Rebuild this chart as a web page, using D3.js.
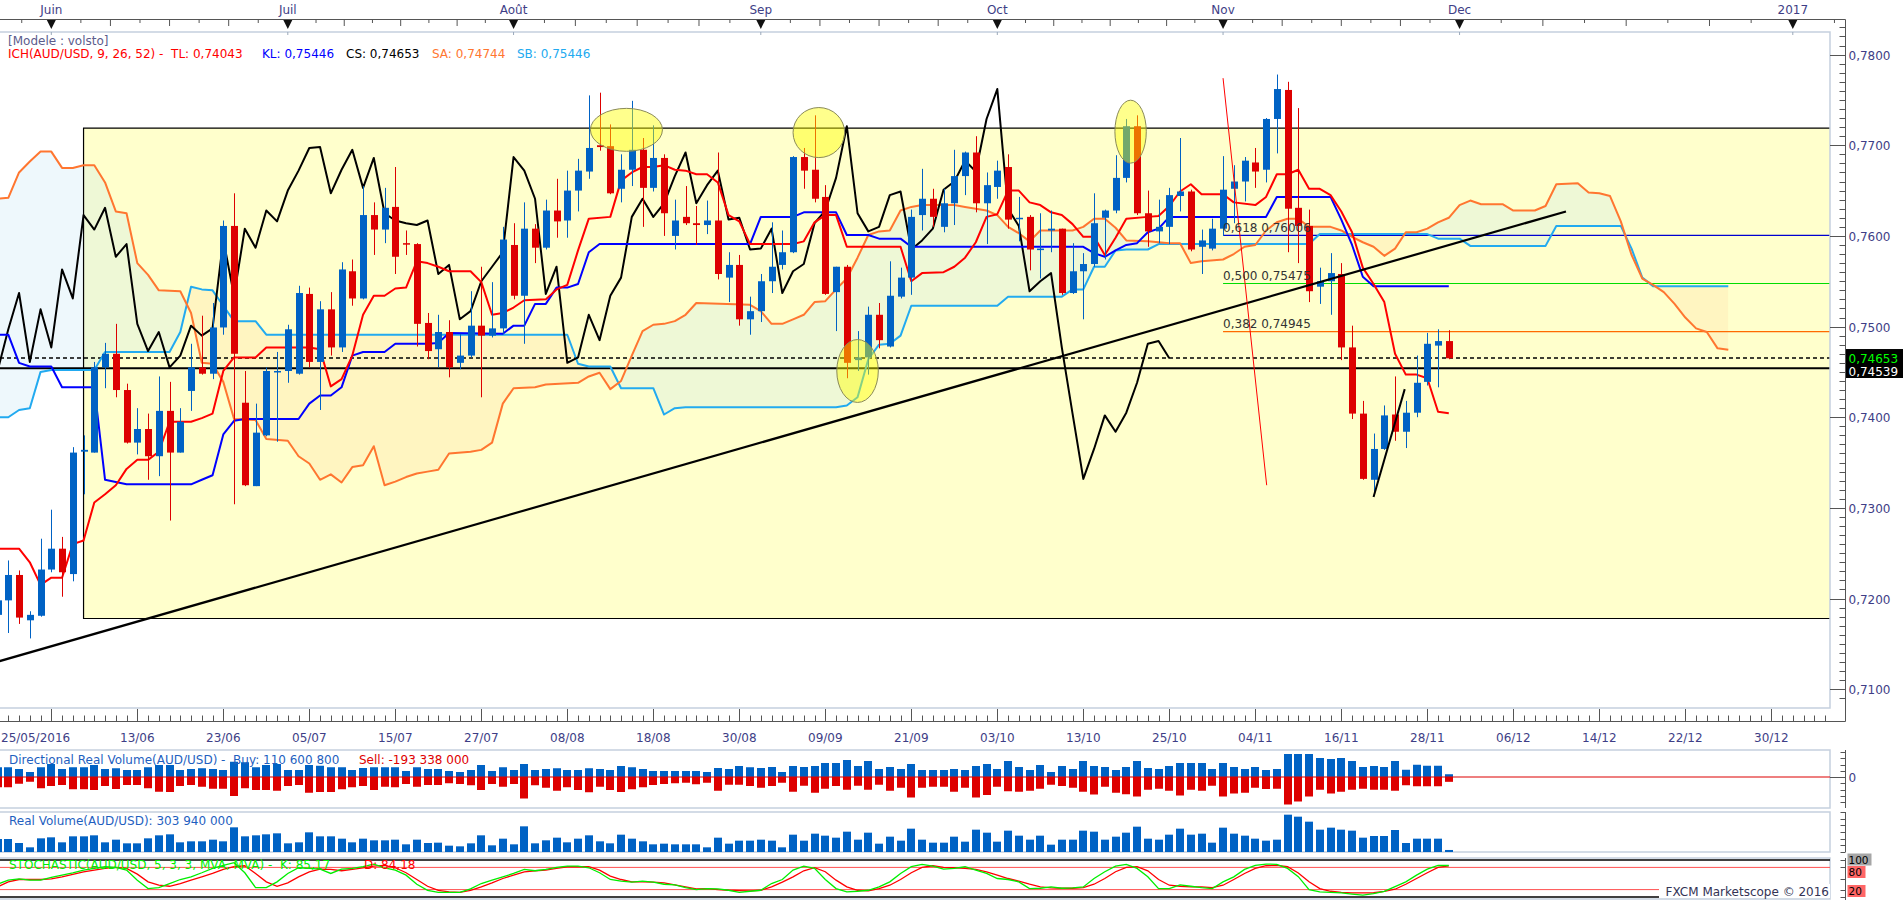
<!DOCTYPE html>
<html><head><meta charset="utf-8">
<script src="https://cdn.jsdelivr.net/npm/d3@7/dist/d3.min.js"></script>
<style>
html,body{margin:0;padding:0;background:#fff;overflow:hidden}
svg{display:block}
text{font-family:"DejaVu Sans",Verdana,sans-serif;font-size:12px;white-space:pre}
</style></head>
<body><svg id="c" width="1903" height="900"></svg>
<script>
// ---------------- DATA ----------------
const firstBar = -5; // bar index of first candle (1/06/2016 = 0)
const opens = [0.7182,0.7198,0.7226,0.7176,0.7181,0.7232,0.7255,0.7227,0.7362,0.7361,
0.7455,0.7470,0.7430,0.7372,0.7387,0.7357,0.7407,0.7361,0.7429,0.7455,
0.7448,0.7499,0.7611,0.7416,0.7324,0.7380,0.7450,0.7451,0.7448,0.7536,
0.7461,0.7519,0.7477,0.7561,0.7531,0.7623,0.7607,0.7632,0.7592,0.7591,
0.7504,0.7475,0.7494,0.7460,0.7468,0.7501,0.7490,0.7498,0.7590,0.7534,
0.7608,0.7587,0.7628,0.7617,0.7650,0.7671,0.7700,0.7699,0.7652,0.7673,
0.7695,0.7653,0.7686,0.7600,0.7621,0.7614,0.7612,0.7617,0.7554,0.7568,
0.7508,0.7517,0.7550,0.7568,0.7582,0.7687,0.7673,0.7643,0.7538,0.7566,
0.7463,0.7466,0.7513,0.7478,0.7533,0.7554,0.7623,0.7641,0.7610,0.7636,
0.7666,0.7692,0.7636,0.7654,0.7676,0.7619,0.7621,0.7585,0.7606,0.7608,
0.7537,0.7561,0.7569,0.7620,0.7628,0.7664,0.7721,0.7625,0.7605,0.7610,
0.7644,0.7649,0.7588,0.7586,0.7608,0.7652,0.7660,0.7681,0.7673,0.7729,
0.7761,0.7631,0.7611,0.7544,0.7550,0.7558,0.7477,0.7404,0.7331,0.7365,
0.7403,0.7384,0.7405,0.7439,0.7479,0.7484];
const highs = [0.7206,0.7242,0.7231,0.7186,0.7266,0.7298,0.7268,0.7367,0.7380,0.7461,
0.7482,0.7503,0.7437,0.7410,0.7404,0.7445,0.7439,0.7410,0.7481,0.7512,
0.7526,0.7617,0.7647,0.7451,0.7415,0.7455,0.7472,0.7502,0.7545,0.7543,
0.7528,0.7538,0.7571,0.7574,0.7655,0.7637,0.7653,0.7676,0.7606,0.7592,
0.7515,0.7513,0.7507,0.7492,0.7539,0.7566,0.7549,0.7610,0.7614,0.7637,
0.7613,0.7640,0.7663,0.7672,0.7685,0.7755,0.7758,0.7723,0.7690,0.7749,
0.7708,0.7722,0.7690,0.7640,0.7655,0.7633,0.7639,0.7692,0.7582,0.7579,
0.7533,0.7558,0.7615,0.7606,0.7688,0.7697,0.7733,0.7656,0.7566,0.7568,
0.7495,0.7522,0.7526,0.7572,0.7565,0.7629,0.7674,0.7652,0.7652,0.7695,
0.7693,0.7710,0.7670,0.7683,0.7690,0.7643,0.7623,0.7625,0.7628,0.7608,
0.7592,0.7581,0.7647,0.7629,0.7689,0.7729,0.7733,0.7650,0.7640,0.7653,
0.7708,0.7651,0.7607,0.7619,0.7688,0.7678,0.7687,0.7697,0.7730,0.7778,
0.7770,0.7741,0.7629,0.7565,0.7581,0.7570,0.7501,0.7418,0.7382,0.7413,
0.7445,0.7418,0.7468,0.7493,0.7497,0.7496];
const lows = [0.7174,0.7162,0.7172,0.7156,0.7180,0.7229,0.7202,0.7219,0.7315,0.7361,
0.7432,0.7422,0.7371,0.7359,0.7331,0.7335,0.7286,0.7361,0.7407,0.7447,
0.7442,0.7491,0.7304,0.7324,0.7324,0.7379,0.7373,0.7438,0.7447,0.7455,
0.7408,0.7468,0.7472,0.7523,0.7530,0.7579,0.7592,0.7558,0.7579,0.7478,
0.7464,0.7455,0.7444,0.7453,0.7466,0.7422,0.7488,0.7492,0.7530,0.7481,
0.7570,0.7585,0.7598,0.7598,0.7627,0.7663,0.7694,0.7646,0.7637,0.7655,
0.7610,0.7649,0.7600,0.7585,0.7612,0.7590,0.7602,0.7552,0.7527,0.7501,
0.7491,0.7505,0.7537,0.7563,0.7581,0.7652,0.7637,0.7535,0.7495,0.7443,
0.7451,0.7447,0.7476,0.7477,0.7531,0.7535,0.7606,0.7610,0.7604,0.7612,
0.7645,0.7626,0.7591,0.7641,0.7608,0.7594,0.7562,0.7553,0.7582,0.7535,
0.7536,0.7508,0.7566,0.7574,0.7625,0.7659,0.7623,0.7588,0.7592,0.7591,
0.7627,0.7583,0.7558,0.7584,0.7600,0.7614,0.7638,0.7653,0.7659,0.7691,
0.7582,0.7570,0.7527,0.7525,0.7513,0.7463,0.7398,0.7331,0.7313,0.7364,
0.7374,0.7366,0.7400,0.7435,0.7433,0.7464];
const closes = [0.7198,0.7226,0.7179,0.7182,0.7232,0.7255,0.7229,0.7361,0.7364,0.7455,
0.7470,0.7430,0.7372,0.7387,0.7357,0.7407,0.7361,0.7395,0.7455,0.7448,
0.7499,0.7611,0.7470,0.7325,0.7383,0.7451,0.7451,0.7497,0.7537,0.7461,
0.7519,0.7477,0.7563,0.7531,0.7623,0.7607,0.7631,0.7577,0.7591,0.7503,
0.7473,0.7494,0.7455,0.7468,0.7501,0.7490,0.7498,0.7596,0.7534,0.7608,
0.7587,0.7628,0.7616,0.7650,0.7672,0.7697,0.7698,0.7647,0.7673,0.7695,
0.7653,0.7686,0.7625,0.7617,0.7614,0.7612,0.7617,0.7558,0.7568,0.7508,
0.7517,0.7550,0.7566,0.7582,0.7687,0.7672,0.7641,0.7536,0.7566,0.7460,
0.7466,0.7513,0.7485,0.7534,0.7554,0.7621,0.7641,0.7621,0.7636,0.7666,
0.7692,0.7636,0.7656,0.7672,0.7618,0.7620,0.7585,0.7586,0.7608,0.7537,
0.7561,0.7569,0.7614,0.7628,0.7664,0.7721,0.7625,0.7605,0.7610,0.7645,
0.7649,0.7585,0.7595,0.7608,0.7651,0.7660,0.7683,0.7671,0.7729,0.7762,
0.7630,0.7611,0.7539,0.7550,0.7559,0.7477,0.7404,0.7332,0.7365,0.7402,
0.7384,0.7405,0.7438,0.7481,0.7484,0.7465];

// Ichimoku lines: [bar, price]
const tenkan = [[-5,0.7255],[-3,0.7255],[-2,0.7240],[-1,0.7215],[0,0.7223],[1,0.7223],[2,0.7260],[3,0.7264],[4,0.7306],[5,0.7315],[6,0.7325],[7,0.7343],[8,0.7353],[9,0.7353],[10,0.7362],[11,0.7395],[13,0.7395],[14,0.7399],[15,0.7404],[16,0.7451],[17,0.7466],[19,0.7466],[20,0.7477],[24,0.7477],[25,0.7475],[26,0.7434],[27,0.7442],[28,0.7468],[29,0.7513],[30,0.7534],[31,0.7534],[32,0.7542],[33,0.7543],[34,0.7572],[35,0.7570],[36,0.7566],[37,0.7561],[39,0.7561],[40,0.7549],[41,0.7513],[42,0.7515],[43,0.7521],[44,0.7529],[46,0.7530],[47,0.7541],[48,0.7546],[49,0.7584],[50,0.7619],[52,0.7621],[53,0.7661],[54,0.7670],[55,0.7676],[56,0.7676],[57,0.7678],[58,0.7673],[59,0.7672],[60,0.7668],[61,0.7668],[62,0.7659],[63,0.7623],[64,0.7616],[65,0.7591],[69,0.7591],[70,0.7594],[71,0.7615],[72,0.7623],[73,0.7623],[74,0.7588],[79,0.7588],[80,0.7550],[81,0.7559],[83,0.7560],[84,0.7566],[85,0.7576],[86,0.7593],[87,0.7621],[88,0.7624],[89,0.7650],[90,0.7650],[91,0.7637],[92,0.7634],[93,0.7626],[94,0.7623],[95,0.7613],[96,0.7599],[97,0.7599],[98,0.7579],[99,0.7598],[100,0.7619],[102,0.7621],[103,0.7622],[104,0.7633],[105,0.7649],[106,0.7657],[107,0.7646],[109,0.7646],[110,0.7637],[112,0.7634],[113,0.7643],[114,0.7668],[115,0.7668],[116,0.7673],[117,0.7652],[118,0.7652],[119,0.7645],[120,0.7627],[121,0.7604],[122,0.7565],[123,0.7547],[124,0.7527],[125,0.7470],[126,0.7447],[127,0.7447],[128,0.7443],[129,0.7406],[130,0.74043]];
const kijun = [[-5,0.7491],[-4,0.7491],[-3,0.7460],[-2,0.7456],[0,0.7456],[1,0.7433],[4,0.7433],[5,0.7331],[7,0.7326],[13,0.7326],[14,0.7331],[15,0.7336],[16,0.7381],[17,0.7396],[18,0.7398],[23,0.7398],[24,0.7415],[25,0.7424],[26,0.7424],[27,0.7433],[28,0.7468],[29,0.7472],[31,0.7472],[32,0.7481],[35,0.7481],[36,0.7482],[37,0.7493],[42,0.7492],[43,0.7501],[44,0.7501],[45,0.7525],[46,0.7525],[47,0.7543],[48,0.7543],[49,0.7547],[50,0.7582],[51,0.7591],[65,0.7591],[66,0.7621],[69,0.7621],[70,0.7626],[73,0.7626],[74,0.7601],[76,0.7601],[77,0.7597],[79,0.7597],[80,0.7588],[96,0.7588],[97,0.7581],[98,0.7577],[99,0.7584],[100,0.7590],[101,0.7592],[102,0.7604],[103,0.7608],[104,0.7621],[113,0.7621],[114,0.7643],[119,0.7643],[120,0.7618],[121,0.7590],[122,0.7555],[123,0.75446],[130,0.75446]];
const senkouA = [[-5,0.7641],[-4,0.7642],[-3,0.7670],[-2,0.7682],[-1,0.7693],[0,0.7693],[1,0.7675],[2,0.7675],[3,0.7678],[4,0.7678],[5,0.7659],[6,0.7627],[7,0.7625],[8,0.7570],[9,0.7557],[10,0.7540],[12,0.7539],[13,0.7515],[14,0.7460],[15,0.7459],[16,0.7439],[17,0.7398],[19,0.7397],[20,0.7376],[22,0.7374],[23,0.7357],[24,0.7349],[25,0.7331],[26,0.7337],[27,0.7328],[28,0.7345],[29,0.7347],[30,0.7368],[31,0.7325],[32,0.7329],[33,0.7334],[34,0.7338],[35,0.7340],[36,0.7342],[37,0.7360],[39,0.7362],[40,0.7364],[41,0.7372],[42,0.7415],[43,0.7432],[45,0.7433],[46,0.7436],[49,0.7438],[50,0.7445],[51,0.7449],[52,0.7431],[53,0.7440],[54,0.7468],[55,0.7495],[56,0.7502],[57,0.7503],[58,0.7506],[59,0.7513],[60,0.7526],[65,0.7524],[66,0.7517],[67,0.7503],[68,0.7503],[69,0.7508],[70,0.7513],[71,0.7527],[72,0.7528],[73,0.7541],[74,0.7553],[75,0.7576],[76,0.7601],[77,0.7605],[78,0.7606],[79,0.7628],[80,0.7632],[81,0.7634],[84,0.7634],[85,0.7632],[86,0.7630],[87,0.7628],[88,0.7623],[89,0.7610],[90,0.7603],[91,0.7594],[92,0.7606],[95,0.7606],[96,0.7610],[97,0.7619],[98,0.7619],[99,0.7609],[100,0.7595],[102,0.7594],[104,0.7592],[105,0.7592],[106,0.7570],[107,0.7572],[109,0.7574],[110,0.7580],[111,0.7588],[112,0.7590],[113,0.7606],[114,0.7615],[115,0.7619],[116,0.7619],[117,0.7610],[119,0.7610],[120,0.7606],[121,0.7599],[122,0.7593],[123,0.7588],[124,0.7578],[125,0.7586],[126,0.7604],[127,0.7604],[128,0.7608],[129,0.7615],[130,0.7620],[131,0.7634],[132,0.7639],[133,0.7635],[135,0.7635],[136,0.7628],[138,0.7628],[139,0.7633],[140,0.7657],[142,0.7658],[143,0.7648],[144,0.7647],[145,0.7644],[146,0.7616],[147,0.7579],[148,0.7553],[149,0.7546],[150,0.7538],[151,0.7525],[152,0.7510],[153,0.7498],[154,0.7494],[155,0.7476],[156,0.74744]];
const senkouB = [[-5,0.7400],[-4,0.7400],[-3,0.7408],[-2,0.7410],[-1,0.7450],[0,0.7452],[4,0.7452],[5,0.7472],[11,0.7472],[12,0.7494],[13,0.7544],[14,0.7541],[15,0.7540],[16,0.7523],[17,0.7506],[19,0.7506],[20,0.7491],[48,0.7491],[49,0.7459],[50,0.7456],[52,0.7456],[53,0.7432],[56,0.7432],[57,0.7403],[58,0.7410],[59,0.7411],[73,0.7411],[74,0.7413],[75,0.7422],[76,0.7464],[77,0.7480],[78,0.7481],[79,0.7490],[80,0.7523],[88,0.7523],[89,0.7533],[94,0.7533],[95,0.7541],[96,0.7541],[97,0.7566],[98,0.7566],[99,0.7584],[100,0.7585],[102,0.7585],[103,0.7591],[117,0.7591],[118,0.7602],[128,0.7602],[129,0.7597],[131,0.7597],[132,0.7589],[139,0.7589],[140,0.7611],[146,0.7611],[147,0.7586],[148,0.7554],[149,0.75446],[156,0.75446]];
const chikouShift = 26;

// Volumes (millions) per bar, from firstBar
const buyVolume = [390,390,320,200,390,520,320,390,390,480,320,350,280,280,390,480,480,280,320,350,320,280,610,590,390,480,520,280,280,480,450,390,390,280,360,390,390,390,240,390,320,320,240,200,280,480,240,390,280,520,280,320,350,280,280,350,320,280,440,390,320,240,240,240,240,240,200,360,320,440,390,360,400,200,440,400,440,560,560,680,440,640,320,400,320,520,280,280,280,320,280,440,520,320,640,400,280,480,200,440,320,640,440,400,280,400,640,360,320,440,560,560,560,320,560,400,320,400,280,320,920,920,920,760,720,760,640,400,440,400,640,290,490,450,450,110.6008];
const sellVolume = [-410,-410,-270,-190,-450,-360,-320,-490,-490,-520,-360,-480,-320,-320,-450,-590,-600,-360,-320,-390,-470,-470,-760,-450,-520,-520,-550,-360,-320,-630,-600,-600,-490,-410,-360,-520,-390,-410,-280,-390,-320,-320,-250,-280,-330,-520,-280,-390,-280,-860,-330,-430,-550,-410,-520,-610,-390,-520,-600,-490,-410,-320,-280,-250,-230,-290,-230,-550,-310,-310,-360,-430,-360,-230,-590,-350,-630,-470,-360,-510,-350,-510,-310,-550,-430,-820,-430,-390,-390,-590,-430,-820,-720,-390,-570,-590,-550,-470,-310,-360,-430,-590,-700,-390,-630,-690,-780,-510,-470,-550,-740,-510,-550,-350,-780,-660,-630,-430,-480,-470,-1100,-980,-780,-510,-660,-590,-510,-470,-510,-510,-550,-330,-370,-370,-370,-193.338];
const realVolume = [1950,1950,1350,700,2050,2200,1450,2350,2350,2500,1450,1850,1300,1300,2050,2500,2650,1450,1600,1600,1850,1600,3700,2350,2500,2650,2800,1300,1450,2950,2350,2350,2000,1450,2000,1750,1750,1850,1150,1850,1350,1400,950,850,1300,2500,1000,2000,1150,3850,1300,1750,2150,1450,2000,2500,1600,1300,2600,2000,1600,1150,1250,1150,1150,1150,700,2150,1250,1700,1700,1850,1700,700,2600,1700,2750,2450,2150,3050,1850,2900,1250,2300,1700,3500,1850,1400,1400,2300,1550,3350,2900,1550,3200,2450,1850,2450,1100,1850,1850,3200,3050,1850,2300,2900,3800,2000,1850,2600,3500,2600,2750,1400,3650,2750,2450,2000,1700,1850,5600,5300,4550,3350,3650,3350,3200,2150,2400,2400,3300,1350,2000,2000,2000,303.94];
const stochK = [34.5,45.5,49,45.5,45.5,53,59,65.5,72.7,77.3,81.8,80,72.7,45.5,22.7,25.5,36.4,47.3,54.5,65.5,77.3,85.5,92.7,65.5,25.5,25.5,41,63.6,79,77.3,75.5,63.6,75.5,77.3,81.8,89,79,72.7,59,34.5,18,12.7,12.7,12.7,21.8,36.4,45.5,54.5,63.6,74.5,71,74.5,80,83.6,83.6,79,65.5,47.3,42.7,40,42.7,40,34.5,32.7,25.5,20,22.7,21.8,18.2,12.7,15.5,18.2,36.4,47.3,72.7,83.6,77.3,47.3,22.7,13.6,15.5,18.2,27.3,40.9,63.6,81.8,88.2,83.6,75.5,77.3,81.8,72.7,63.6,50,47.3,40.9,22.7,23.6,27.3,23.6,24.5,27.3,50,68.2,83.6,88.2,77.3,54.5,22.7,22.7,32.7,29.1,25.5,22.7,40.9,54.5,74.5,85.5,89.1,88.2,77.3,55,20,13.6,12.7,10.9,8,5,9,15,28,41,59,75.5,85.5,85.17];
const stochD = [27.3,41,47.3,47.3,47.3,49,54.5,61,68,72.7,77.3,80,77.3,61.8,41,31.8,29,36.4,45.5,54.5,63.6,74.5,81.8,84.5,63.6,41,29,38,54.5,68,75.5,74.5,71,74.5,79,83.6,85.5,79,65.5,47.3,29,18,13.6,12.7,18,27.3,38,50,59,68,71,72.7,77.3,81.8,81.8,81.8,72.7,56.4,47.3,41,41,40,38,32.7,27.3,21.8,22.7,20,18.2,17.3,16.4,18.2,27.3,40,54.5,70.9,79.1,68.2,45.5,27.3,18.2,16.4,22.7,31.8,47.3,65.5,80,84.5,80,79.1,77.3,74.5,68.2,59.1,50,42.7,34.5,27.3,24.5,23.6,23.6,25.5,34.5,50,68.2,80,81.8,70.9,47.3,31.8,29.1,27.3,27.3,25.5,31.8,47.3,63.6,77.3,84.5,85.5,81.8,65,41,22.7,15.5,12.7,10.9,10.9,11.5,15,21,34.5,50,65.5,80,84.18];

// Axis labels
const monthLabels = ["Juin","Juil","Août","Sep","Oct","Nov","Dec","2017"];
const monthBars = [0,22,43,66,88,109,131,162];
const firstDateLabel = "25/05/2016";
const dateLabels = ["13/06","23/06","05/07","15/07","27/07","08/08","18/08","30/08","09/09","21/09","03/10","13/10","25/10","04/11","16/11","28/11","06/12","14/12","22/12","30/12"];
const dateLabelBars = [8,16,24,32,40,48,56,64,72,80,88,96,104,112,120,128,136,144,152,160];
const priceTicks = [0.71,0.72,0.73,0.74,0.75,0.76,0.77,0.78];

// Drawings
const boxStartBar = 3, boxTop = 0.7719, boxBottom = 0.7178;
const trendLine = [[-4.8,0.7131],[140.9,0.7627]];
const redDiagonal = [[109,0.7774],[113.06,0.7325]];
const reboundLine = [[123,0.7312],[125.9,0.7431]];
const fibStartBar = 109;
const fibLabels = ["0,618 0,76006","0,500 0,75475","0,382 0,74945"];
const fibValues = [0.76006,0.75475,0.74945];
const ellipseBars = [53.5,71.4,75.0,100.4];
const ellipsePrices = [0.7717,0.7714,0.7451,0.7715];
const ellipseHalfBars = [3.35,2.4,1.93,1.46];
const ellipseHalfPrices = [0.00237,0.00276,0.00347,0.00347];
const lastClose = 0.74653, refLevel = 0.74539;

// ---------------- CHART ----------------
const svg = d3.select("#c");
const PL = 0, PR = 1830, PT = 32, PB = 708, AX = 1845.5;
const x = d3.scaleLinear().domain([0, 8]).range([51.3, 137.3]);
const y = d3.scaleLinear().domain([0.71, 0.78]).range([689.2, 54.6]);
const C = {bull:"#0062c4", bear:"#dd0000", tl:"#ff0000", kl:"#0000ff", sa:"#ff7630", sb:"#22aaf0",
  axis:"#555", txt:"#3e3e86", border:"#c5d0de"};

const defs = svg.append("defs");
defs.append("clipPath").attr("id","plotClip").append("rect")
  .attr("x",PL).attr("y",PT).attr("width",PR-PL).attr("height",PB-PT);
const line = d3.line().x(d=>x(d[0])).y(d=>y(d[1]));
const sbPath = line(senkouB);
const sbFirst = senkouB[0][0], sbLast = senkouB[senkouB.length-1][0];
defs.append("clipPath").attr("id","aboveSB").append("path")
  .attr("d", sbPath + `L${x(sbLast)},-2000L${x(sbFirst)},-2000Z`);
defs.append("clipPath").attr("id","belowSB").append("path")
  .attr("d", sbPath + `L${x(sbLast)},3000L${x(sbFirst)},3000Z`);

const plot = svg.append("g").attr("clip-path","url(#plotClip)");
// yellow box fill
plot.append("rect").attr("x",x(boxStartBar)).attr("y",y(boxTop))
  .attr("width",PR+10-x(boxStartBar)).attr("height",y(boxBottom)-y(boxTop)).attr("fill","#ffffcc");
// cloud
const cloudD = line(senkouA) + "L" + senkouB.slice().reverse().map(d=>x(d[0])+","+y(d[1])).join("L") + "Z";
plot.append("path").attr("d",cloudD).attr("fill","rgb(187,227,244)").attr("fill-opacity",0.25)
  .attr("fill-rule","evenodd").attr("clip-path","url(#aboveSB)");
plot.append("path").attr("d",cloudD).attr("fill","rgb(255,203,150)").attr("fill-opacity",0.2)
  .attr("fill-rule","evenodd").attr("clip-path","url(#belowSB)");
// box border
plot.append("path").attr("d",`M${PR+20},${y(boxTop)}H${x(boxStartBar)}V${y(boxBottom)}H${PR+20}`)
  .attr("fill","none").attr("stroke","#000").attr("stroke-width",1.2);
// fib lines
const fibColors = ["#0000d0","#00dd00","#ff6a00"];
fibValues.forEach((v,k)=>{
  plot.append("line").attr("x1",x(fibStartBar)).attr("x2",PR).attr("y1",y(v)).attr("y2",y(v))
    .attr("stroke",fibColors[k]).attr("stroke-width",1.2);
});
// current price lines
plot.append("line").attr("x1",PL).attr("x2",PR).attr("y1",y(refLevel)).attr("y2",y(refLevel))
  .attr("stroke","#000").attr("stroke-width",2);
plot.append("line").attr("x1",PL).attr("x2",PR).attr("y1",y(lastClose)).attr("y2",y(lastClose))
  .attr("stroke","#000").attr("stroke-width",1.6).attr("stroke-dasharray","4,3");
// ichimoku lines
const addLine = (pts,col,w)=>plot.append("path").attr("d",line(pts)).attr("fill","none")
  .attr("stroke",col).attr("stroke-width",w).attr("stroke-linejoin","round");
addLine(senkouB,C.sb,2);
addLine(senkouA,C.sa,2);
const chikou = closes.map((c,k)=>[firstBar+k-chikouShift,c]).filter(d=>d[0]>=firstBar-1);
addLine(chikou,"#000",2);
addLine(kijun,C.kl,2);
addLine(tenkan,C.tl,2);
// candles
const bars = d3.range(closes.length).map(k=>({i:firstBar+k,o:opens[k],h:highs[k],l:lows[k],c:closes[k]}));
const cg = plot.append("g");
bars.forEach(b=>{
  const col = b.c>=b.o ? C.bull : C.bear;
  const cx = Math.round(x(b.i))+0.5;
  cg.append("line").attr("x1",cx).attr("x2",cx).attr("y1",y(b.h)).attr("y2",y(b.l))
    .attr("stroke",col).attr("stroke-width",1);
  const top = y(Math.max(b.o,b.c)), bot = y(Math.min(b.o,b.c));
  cg.append("rect").attr("x",cx-3.5).attr("width",7).attr("y",top)
    .attr("height",Math.max(1.5,bot-top)).attr("fill",col);
});
// drawn lines
addLine(trendLine,"#000",2.2);
addLine(redDiagonal,"#ff0000",1);
addLine(reboundLine,"#000",2);
// ellipses
ellipseBars.forEach((b,k)=>{
  plot.append("ellipse").attr("cx",x(b)).attr("cy",y(ellipsePrices[k]))
    .attr("rx",x(b+ellipseHalfBars[k])-x(b))
    .attr("ry",y(ellipsePrices[k]-ellipseHalfPrices[k])-y(ellipsePrices[k]))
    .attr("fill","rgba(255,255,0,0.45)").attr("stroke","#8a8a58").attr("stroke-width",1);
});
// fib labels
fibValues.forEach((v,k)=>{
  plot.append("text").attr("x",x(fibStartBar)).attr("y",y(v)-3.5).attr("fill","#333")
    .text(fibLabels[k]);
});

// plot border
svg.append("path").attr("d",`M${PL},${PT}H${PR}V${PB}H${PL}`).attr("fill","none")
  .attr("stroke",C.border).attr("stroke-width",1.5);

// ---- top axis ----
svg.append("line").attr("x1",0).attr("x2",AX).attr("y1",19.5).attr("y2",19.5).attr("stroke",C.axis);
const topTicks = [];
for (let m=0;m<monthBars.length;m++){
  const a = monthBars[m];
  const step = (m<monthBars.length-1 ? monthBars[m+1]-a : a-monthBars[m-1])/8;
  const kStart = m===0 ? -2 : 1;
  for (let k=kStart;k<8;k++){ if(k===0) continue; topTicks.push({b:a+step*k, long:k%2===0}); }
}
topTicks.forEach(t=>{
  const tx = x(t.b); if (tx<0||tx>AX) return;
  svg.append("line").attr("x1",tx).attr("x2",tx).attr("y1",19.5).attr("y2",t.long?26:23)
    .attr("stroke",C.axis);
});
monthBars.forEach((b,k)=>{
  const mx = x(b);
  svg.append("path").attr("d",`M${mx-4.5},20H${mx+4.5}L${mx},29Z`).attr("fill","#111");
  svg.append("line").attr("x1",mx).attr("x2",mx).attr("y1",PT).attr("y2",PT+3).attr("stroke","#9aa8ba");
  svg.append("text").attr("x",mx).attr("y",13.5).attr("text-anchor","middle").attr("fill",C.txt)
    .text(monthLabels[k]);
});

// ---- bottom axis ----
svg.append("line").attr("x1",0).attr("x2",AX).attr("y1",721.5).attr("y2",721.5).attr("stroke",C.axis);
d3.range(-5,166).forEach(b=>{
  const tx = Math.round(x(b))+0.5; if (tx<0||tx>PR) return;
  const major = ((b%8)+8)%8===0;
  svg.append("line").attr("x1",tx).attr("x2",tx).attr("y1",721.5).attr("y2",major?709:715.5)
    .attr("stroke",C.axis);
});
svg.append("text").attr("x",1).attr("y",741.5).attr("fill",C.txt).text(firstDateLabel);
dateLabels.forEach((l,k)=>{
  svg.append("text").attr("x",x(dateLabelBars[k])).attr("y",741.5).attr("text-anchor","middle")
    .attr("fill",C.txt).text(l);
});

// ---- price axis ----
svg.append("line").attr("x1",AX).attr("x2",AX).attr("y1",19.5).attr("y2",721.5).attr("stroke",C.axis);
d3.range(7085,7836).forEach(v=>{
  if (v%10!==0) return;
  const p = v/10000, ty = Math.round(y(p))+0.5;
  const major = v%100===0;
  svg.append("line").attr("x1",major?PR:AX-6).attr("x2",AX).attr("y1",ty).attr("y2",ty).attr("stroke",C.axis);
});
priceTicks.forEach(p=>{
  svg.append("text").attr("x",AX+3).attr("y",y(p)+5).attr("fill",C.txt)
    .text(d3.format(".4f")(p).replace(".",","));
});
// current price tags
svg.append("rect").attr("x",AX+0.5).attr("y",362).attr("width",60).attr("height",16).attr("fill","#000");
svg.append("text").attr("x",AX+3).attr("y",y(refLevel)+8).attr("fill","#fff")
  .text(d3.format(".5f")(refLevel).replace(".",","));
svg.append("rect").attr("x",AX+0.5).attr("y",y(lastClose)-9).attr("width",60).attr("height",17.5).attr("fill","#000");
svg.append("text").attr("x",AX+3).attr("y",y(lastClose)+4.5).attr("fill","#00ff00")
  .text(d3.format(".5f")(lastClose).replace(".",","));

// ---- legends ----
svg.append("text").attr("x",8).attr("y",45).attr("fill","#5c5c8c").text("[Modele : volsto]");
const leg = svg.append("text").attr("y",57.5);
leg.append("tspan").attr("x",8).attr("fill","#ff0000").text("ICH(AUD/USD, 9, 26, 52) -  TL: 0,74043");
leg.append("tspan").attr("x",262).attr("fill","#0000ff").text("KL: 0,75446");
leg.append("tspan").attr("x",346).attr("fill","#000").text("CS: 0,74653");
leg.append("tspan").attr("x",432).attr("fill",C.sa).text("SA: 0,74744");
leg.append("tspan").attr("x",517).attr("fill",C.sb).text("SB: 0,75446");

// ---- panel 1: directional volume ----
const x0 = b=>x(b);
const p1 = d3.scaleLinear().domain([-1240,1080]).range([808,750]);
svg.append("rect").attr("x",-2).attr("y",750).attr("width",PR+2).attr("height",58)
  .attr("fill","none").attr("stroke",C.border).attr("stroke-width",1.5);
buyVolume.forEach((v,k)=>{
  const b = firstBar+k, bx = Math.round(x0(b))-4;
  svg.append("rect").attr("x",bx).attr("width",8).attr("y",p1(v)).attr("height",p1(0)-p1(v)).attr("fill",C.bull);
  const s = sellVolume[k];
  svg.append("rect").attr("x",bx).attr("width",8).attr("y",p1(0)).attr("height",p1(s)-p1(0)).attr("fill",C.bear);
});
svg.append("line").attr("x1",0).attr("x2",PR).attr("y1",p1(0)).attr("y2",p1(0)).attr("stroke","#dd0000").attr("stroke-width",1.2);
const t1 = svg.append("text").attr("y",763.5);
t1.append("tspan").attr("x",9).attr("fill","#1f5fbf").text("Directional Real Volume(AUD/USD) -  Buy: 110 600 800");
t1.append("tspan").attr("x",359).attr("fill","#e00000").text("Sell: -193 338 000");
svg.append("line").attr("x1",AX).attr("x2",AX).attr("y1",750).attr("y2",808).attr("stroke",C.axis);
d3.range(-1000,1001,250).forEach(v=>{
  svg.append("line").attr("x1",v===0?PR:AX-5).attr("x2",AX).attr("y1",Math.round(p1(v))+0.5).attr("y2",Math.round(p1(v))+0.5).attr("stroke",C.axis);
});
svg.append("text").attr("x",AX+3).attr("y",p1(0)+5).attr("fill",C.txt).text("0");

// ---- panel 2: real volume ----
const p2 = d3.scaleLinear().domain([0,6000]).range([852,812]);
svg.append("rect").attr("x",-2).attr("y",812).attr("width",PR+2).attr("height",40)
  .attr("fill","none").attr("stroke",C.border).attr("stroke-width",1.5);
realVolume.forEach((v,k)=>{
  const b = firstBar+k, bx = Math.round(x0(b))-4;
  svg.append("rect").attr("x",bx).attr("width",8).attr("y",p2(v)).attr("height",p2(0)-p2(v)).attr("fill",C.bull);
});
svg.append("text").attr("x",9).attr("y",824.5).attr("fill","#1f5fbf").text("Real Volume(AUD/USD): 303 940 000");
svg.append("line").attr("x1",AX).attr("x2",AX).attr("y1",812).attr("y2",852).attr("stroke",C.axis);
d3.range(0,6001,1000).forEach(v=>{
  svg.append("line").attr("x1",AX-5).attr("x2",AX).attr("y1",Math.round(p2(v))+0.5).attr("y2",Math.round(p2(v))+0.5).attr("stroke",C.axis);
});

// ---- panel 3: stochastic ----
const p3 = d3.scaleLinear().domain([0,100]).range([897,860]);
svg.append("rect").attr("x",-2).attr("y",858).attr("width",PR+2).attr("height",41)
  .attr("fill","none").attr("stroke",C.border).attr("stroke-width",1.5);
[80,20].forEach(v=>svg.append("line").attr("x1",0).attr("x2",PR).attr("y1",p3(v)).attr("y2",p3(v)).attr("stroke","#ff5050").attr("stroke-width",1));
[100,0].forEach(v=>svg.append("line").attr("x1",0).attr("x2",PR).attr("y1",p3(v)).attr("y2",p3(v)).attr("stroke","#000").attr("stroke-width",1.5));
const sl = d3.line().x((d,k)=>x(firstBar+k)).y(d=>p3(d));
svg.append("path").attr("d",sl(stochD)).attr("fill","none").attr("stroke","#ff0000").attr("stroke-width",1.3);
svg.append("path").attr("d",sl(stochK)).attr("fill","none").attr("stroke","#00ee00").attr("stroke-width",1.3);
const t3 = svg.append("text").attr("y",869);
t3.append("tspan").attr("x",9).attr("fill","#00ee00").text("STOCHASTIC(AUD/USD, 5, 3, 3, MVA, MVA) -  K: 85,17");
t3.append("tspan").attr("x",364).attr("fill","#ff0000").text("D: 84,18");
svg.append("line").attr("x1",AX).attr("x2",AX).attr("y1",858).attr("y2",900).attr("stroke",C.axis);
[100,80,50,20,0].forEach(v=>svg.append("line").attr("x1",AX-5).attr("x2",AX).attr("y1",Math.round(p3(v))+0.5).attr("y2",Math.round(p3(v))+0.5).attr("stroke",C.axis));
// level tags (kept apart so they do not overlap)
svg.append("rect").attr("x",AX+2).attr("y",866).attr("width",18).attr("height",12).attr("fill","#ff6666");
svg.append("text").attr("x",AX+3).attr("y",876).attr("fill","#000").style("font-size","10.5px").text("80");
svg.append("rect").attr("x",AX+2).attr("y",853.5).attr("width",24).attr("height",12).attr("fill","#a6a6a6");
svg.append("text").attr("x",AX+3).attr("y",863.5).attr("fill","#000").style("font-size","10.5px").text("100");
svg.append("rect").attr("x",AX+2).attr("y",885).attr("width",18).attr("height",12).attr("fill","#ff6666");
svg.append("text").attr("x",AX+3).attr("y",895).attr("fill","#000").style("font-size","10.5px").text("20");
// footer
svg.append("rect").attr("x",1659).attr("y",884).attr("width",171).attr("height",14).attr("fill","#fff");
svg.append("text").attr("x",1829).attr("y",896).attr("text-anchor","end").attr("fill","#333355").text("FXCM Marketscope © 2016");
</script></body></html>
